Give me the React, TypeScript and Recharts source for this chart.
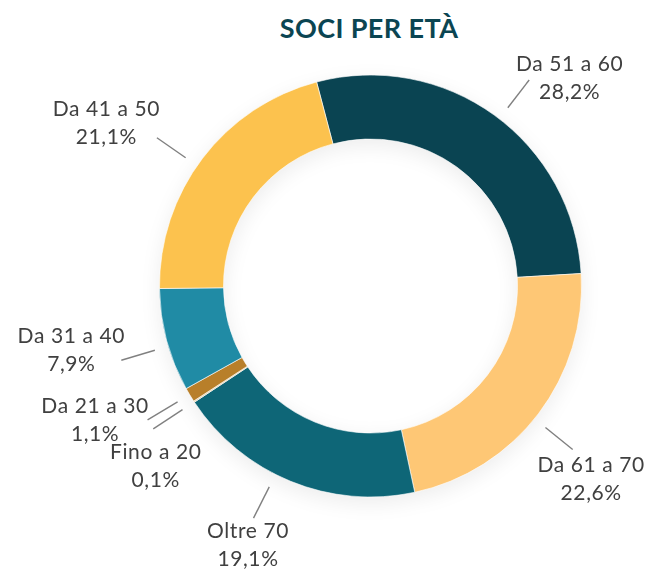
import { Cell, Pie, PieChart } from 'recharts';

const categories = ['Da 51 a 60', 'Da 61 a 70', 'Oltre 70', 'Fino a 20', 'Da 21 a 30', 'Da 31 a 40', 'Da 41 a 50'];
const shares = [28.2, 22.6, 19.1, 0.1, 1.1, 7.9, 21.1];
const sliceColors = ['#0A4452', '#FEC775', '#0E6677', '#E3C89A', '#B87F2A', '#208BA5', '#FCC24E'];

const data = categories.map((name, i) => ({ name, value: shares[i] }));

// label placement tweaks (clockwise turn in degrees, text offset from line end)
const labelLayout = [
  { turn: 1.7, dx: 40.5, dy: -3.5 },
  { turn: 1.7, dx: 18.5, dy: 28 },
  { turn: 4.5, dx: -5.5, dy: 25.5 },
  { turn: -0.1, dx: 2.5, dy: 35.5 },
  { turn: 0.1, dx: -52.5, dy: -1.5 },
  { turn: -1.7, dx: -50, dy: -11.5 },
  { turn: -2.5, dx: -50.5, dy: -16 }
];

const RAD = Math.PI / 180;
const FONT = 'Lato, "Noto Sans", sans-serif';

const fmt = (v: number) => v.toFixed(1).replace('.', ',') + '%';

function polar(cx: number, cy: number, r: number, angle: number) {
  return { x: cx + r * Math.cos(-angle * RAD), y: cy + r * Math.sin(-angle * RAD) };
}

function renderLabel(props: any) {
  const { cx, cy, midAngle, outerRadius, index, value, name } = props;
  const lay = labelLayout[index];
  const a = midAngle - lay.turn;
  const p1 = polar(cx, cy, outerRadius + 14, a);
  const p2 = polar(cx, cy, outerRadius + 49, a);
  const tx = p2.x + lay.dx;
  const ty = p2.y + lay.dy;
  const textProps = {
    x: tx,
    textAnchor: 'middle' as const,
    fill: '#404040',
    fontSize: 21,
    fontFamily: FONT,
    letterSpacing: 0.6
  };
  return (
    <g key={`lbl-${index}`}>
      <line x1={p1.x} y1={p1.y} x2={p2.x} y2={p2.y} stroke="#808080" strokeWidth={1.4} />
      <text {...textProps} y={ty - 5.5}>
        {name}
      </text>
      <text {...textProps} y={ty + 22.5}>
        {fmt(value)}
      </text>
    </g>
  );
}

export default function App() {
  return (
    <div style={{ position: 'absolute', left: 0, top: 0, width: 650, height: 569, background: '#fff' }}>
      <svg width={0} height={0} style={{ position: 'absolute' }}>
        <defs>
          <filter id="ringShadow" x="-20%" y="-20%" width="140%" height="140%">
            <feGaussianBlur stdDeviation="8" />
            <feOffset dy="3" />
            <feComponentTransfer>
              <feFuncA type="linear" slope="0.28" />
            </feComponentTransfer>
          </filter>
        </defs>
      </svg>
      <style>{`.ring-shadow { filter: url(#ringShadow); }`}</style>
      <div
        style={{
          position: 'absolute',
          left: 0,
          width: 738,
          top: 14,
          textAlign: 'center',
          fontFamily: FONT,
          fontWeight: 700,
          fontSize: 27,
          lineHeight: '27px',
          letterSpacing: 0.4,
          color: '#0B4552'
        }}
      >
        SOCI PER ETÀ
      </div>
      <div style={{ position: 'absolute', left: 0, top: 0 }}>
        <PieChart width={650} height={569} margin={{ top: 0, right: 0, bottom: 0, left: 0 }}>
          <Pie
            className="ring-shadow"
            data={data}
            dataKey="value"
            cx={370.5}
            cy={286}
            innerRadius={147}
            outerRadius={211}
            startAngle={104.8}
            endAngle={-255.2}
            fill="#000"
            stroke="none"
            isAnimationActive={false}
          />
          <Pie
            data={data}
            dataKey="value"
            nameKey="name"
            cx={370.5}
            cy={286}
            innerRadius={147}
            outerRadius={211}
            startAngle={104.8}
            endAngle={-255.2}
            stroke="#fff"
            strokeWidth={0.6}
            label={renderLabel}
            labelLine={false}
            isAnimationActive={false}
          >
            {data.map((d, i) => (
              <Cell key={d.name} fill={sliceColors[i]} />
            ))}
          </Pie>
        </PieChart>
      </div>
    </div>
  );
}
